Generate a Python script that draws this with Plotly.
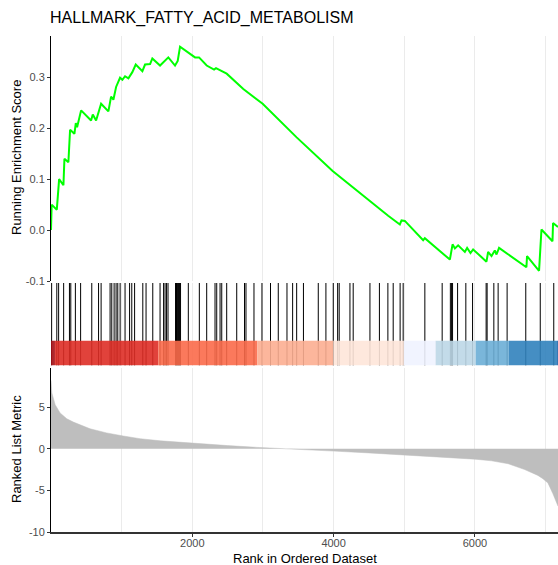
import plotly.graph_objects as go

# ---------------- data ----------------
title_text = "HALLMARK_FATTY_ACID_METABOLISM"

# running enrichment score vertices (rank, score)
es_rank = [1, 10, 83, 98, 116, 177, 191, 247, 271, 332, 352, 370, 427, 568, 592,
           639, 710, 813, 851, 884, 922, 978, 1011, 1049, 1096, 1152, 1200, 1294,
           1332, 1403, 1435, 1544, 1661, 1756, 1794, 1827, 1921, 1954, 2039, 2096,
           2170, 2204, 2308, 2336, 2487, 2722, 2996, 3477, 3986, 4277, 4537, 4772,
           4937, 4961, 5008, 5267, 5291, 5527, 5645, 5683, 5716, 5762, 5857, 5889,
           5937, 5974, 6163, 6186, 6234, 6281, 6305, 6341, 6728, 6737, 6907, 6941,
           7097, 7105, 7175]
es_score = [0.0, 0.05, 0.04, 0.07, 0.10, 0.088, 0.14, 0.133, 0.197, 0.189, 0.21,
            0.202, 0.235, 0.215, 0.227, 0.215, 0.248, 0.233, 0.262, 0.256, 0.281,
            0.299, 0.295, 0.302, 0.298, 0.31, 0.325, 0.312, 0.325, 0.326, 0.337,
            0.323, 0.339, 0.323, 0.332, 0.36, 0.35, 0.348, 0.339, 0.339, 0.327,
            0.323, 0.315, 0.318, 0.307, 0.277, 0.248, 0.182, 0.116, 0.083, 0.054,
            0.028, 0.011, 0.019, 0.018, -0.02, -0.016, -0.045, -0.058, -0.028,
            -0.036, -0.03, -0.043, -0.035, -0.045, -0.038, -0.062, -0.043, -0.051,
            -0.04, -0.048, -0.035, -0.073, -0.051, -0.08, 0.001, -0.022, 0.014,
            0.006]

# ranks of the gene-set members (hit ticks)
hit_rank = [10, 83, 109, 180, 262, 281, 346, 420, 578, 674, 710, 837, 861, 894,
            922, 946, 979, 1049, 1113, 1144, 1184, 1300, 1346, 1441, 1544, 1594,
            1615, 1636, 1657, 1763, 1777, 1792, 1806, 1820, 1834, 1944, 2100, 2204,
            2322, 2346, 2393, 2417, 2487, 2629, 2739, 2760, 2873, 2986, 3107, 3217,
            3340, 3420, 3477, 3573, 3783, 3891, 3995, 4057, 4079, 4231, 4277, 4514,
            4648, 4768, 4843, 4941, 4984, 5291, 5536, 5652, 5669, 5683, 5754, 5871,
            5966, 6158, 6172, 6267, 6328, 6455, 6719, 6924, 7115]

# ranked list metric (rank, value)
metric_rank = [1, 13, 60, 130, 225, 318, 554, 790, 1025, 1261, 1550, 1990, 2500,
               2950, 3256, 3560, 4000, 4500, 5000, 5500, 5760, 6000, 6235, 6470,
               6703, 6890, 6961, 7032, 7103, 7175]
metric_value = [8.2, 6.7, 5.3, 4.3, 3.6, 3.2, 2.4, 1.9, 1.53, 1.21, 0.95, 0.65,
                0.38, 0.15, 0.0, -0.12, -0.28, -0.5, -0.75, -0.98, -1.05, -1.25,
                -1.45, -1.8, -2.5, -3.2, -3.6, -4.1, -5.4, -6.9]

# colour band segments (rank ranges)
band_start = [1, 57, 1520, 2920, 3995, 4995, 5443, 6010, 6480, 7163]
band_end = [57, 1520, 2920, 3995, 4995, 5443, 6010, 6480, 7163, 7175]

x_tick_vals = [2000, 4000, 6000]
x_tick_text = ["2000", "4000", "6000"]
es_tick_vals = [-0.1, 0.0, 0.1, 0.2, 0.3]
es_tick_text = ["-0.1", "0.0", "0.1", "0.2", "0.3"]
metric_tick_vals = [-10, -5, 0, 5]
metric_tick_text = ["-10", "-5", "0", "5"]

# ---------------- styles ----------------
band_palette = ["#A50F15", "#DE2D26", "#FB6A4A", "#FCAE91", "#FEE5D9",
                "#EFF3FF", "#BDD7E7", "#6BAED6", "#3182BD", "#08519C"]
FONT = "Liberation Sans, Arial, sans-serif"
GRID = "#EBEBEB"
TICKFONT = dict(family=FONT, size=11, color="#4D4D4D")
X_RANGE = [1, 7175]

fig = go.Figure()

fig.add_trace(go.Scatter(x=es_rank, y=es_score, mode="lines",
                         line=dict(color="#00FF00", width=2),
                         xaxis="x", yaxis="y", showlegend=False, hoverinfo="skip"))

tick_x, tick_y = [], []
for h in hit_rank:
    tick_x += [h, h, None]
    tick_y += [0, 1, None]
fig.add_trace(go.Scatter(x=tick_x, y=tick_y, mode="lines",
                         line=dict(color="black", width=1),
                         xaxis="x2", yaxis="y2", showlegend=False, hoverinfo="skip"))

fig.add_trace(go.Scatter(x=metric_rank, y=metric_value, mode="lines",
                         fill="tozeroy", fillcolor="#BEBEBE",
                         line=dict(color="#BEBEBE", width=0.5),
                         xaxis="x3", yaxis="y3", showlegend=False, hoverinfo="skip"))

for i, (s, e) in enumerate(zip(band_start, band_end)):
    fig.add_shape(type="rect", xref="x2", yref="y2", x0=s, x1=e, y0=0, y1=0.3,
                  fillcolor=band_palette[i], opacity=0.9, line=dict(width=0),
                  layer="above")

H = 565
T, B = 36, 33
PH = H - T - B


def dom(top_px, bot_px):
    return [(H - B - bot_px) / PH, (H - B - top_px) / PH]


xcommon = dict(range=X_RANGE, showgrid=True, gridcolor=GRID, gridwidth=1,
               tickvals=x_tick_vals, zeroline=False,
               minor=dict(dtick=1000, tick0=0, showgrid=True, gridcolor=GRID, gridwidth=1))

fig.update_layout(
    width=558, height=H,
    margin=dict(l=51, r=0, t=T, b=B),
    plot_bgcolor="white", paper_bgcolor="white",
    font=dict(family=FONT, color="black"),
    xaxis=dict(**xcommon, anchor="y", showticklabels=False, ticks="", showline=False),
    xaxis2=dict(**xcommon, anchor="y2", matches="x", showticklabels=False, ticks="",
                showline=False),
    xaxis3=dict(**xcommon, anchor="y3", matches="x", ticktext=x_tick_text,
                showticklabels=True, ticks="outside", ticklen=3, tickcolor="#333333",
                ticklabelstandoff=-3,
                showline=True, linecolor="#333333", linewidth=1.5, tickfont=TICKFONT),
    yaxis=dict(domain=dom(36, 281), range=[-0.1, 0.381], tickvals=es_tick_vals,
               ticktext=es_tick_text, showgrid=False, zeroline=False, showline=True,
               linecolor="black", linewidth=1, ticks="outside", ticklen=3,
               tickcolor="#333333", tickfont=TICKFONT),
    yaxis2=dict(domain=dom(283, 365.5), range=[0, 1], showgrid=False, zeroline=False,
                showline=False, showticklabels=False, ticks=""),
    yaxis3=dict(domain=dom(368, 532), range=[-10, 9.7], tickvals=metric_tick_vals,
                ticktext=metric_tick_text, showgrid=False, zeroline=False, showline=True,
                linecolor="black", linewidth=1, ticks="outside", ticklen=3,
                tickcolor="#333333", tickfont=TICKFONT),
)

PW = 558 - 51
annos = [
    dict(text=title_text, x=(48 - 51) / PW, y=(H - B - 18) / PH, xanchor="left",
         yanchor="middle", font=dict(size=16, family=FONT, color="black")),
    dict(text="Running Enrichment Score", x=(16 - 51) / PW, y=(H - B - 158) / PH,
         xanchor="center", yanchor="middle", textangle=-90,
         font=dict(size=13, family=FONT, color="black")),
    dict(text="Ranked List Metric", x=(16 - 51) / PW, y=(H - B - 449) / PH,
         xanchor="center", yanchor="middle", textangle=-90,
         font=dict(size=13, family=FONT, color="black")),
    dict(text="Rank in Ordered Dataset", x=0.5, y=(H - B - 558) / PH,
         xanchor="center", yanchor="middle",
         font=dict(size=13, family=FONT, color="black")),
]
for a in annos:
    fig.add_annotation(xref="paper", yref="paper", showarrow=False, **a)

fig.write_html("out.html")
